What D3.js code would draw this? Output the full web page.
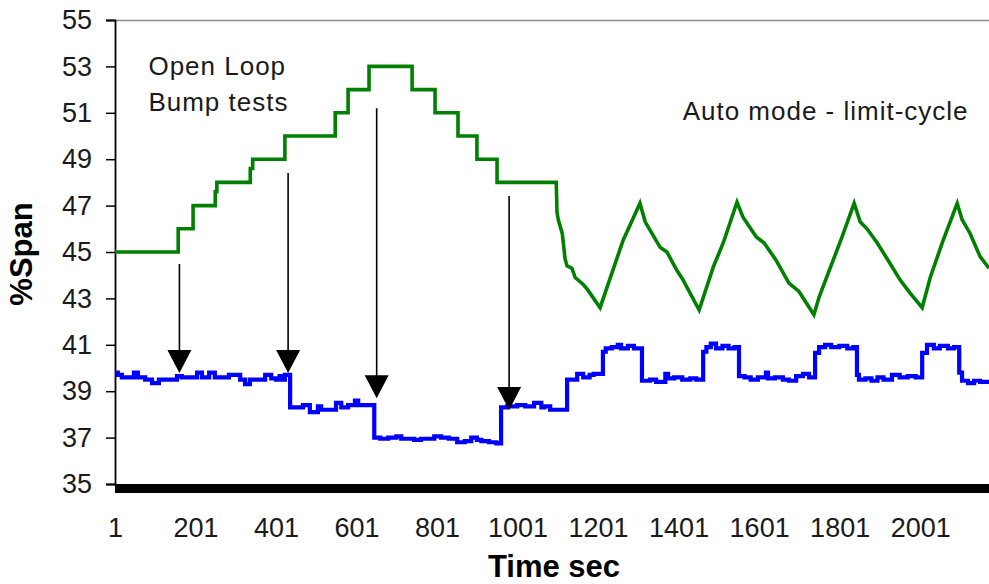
<!DOCTYPE html>
<html>
<head>
<meta charset="utf-8">
<script src="https://cdn.jsdelivr.net/npm/d3@7/dist/d3.min.js"></script>
<style>
  html, body { margin: 0; padding: 0; background: #fff; }
  svg { display: block; font-family: "Liberation Sans", Arial, sans-serif; }
</style>
</head>
<body>
<svg id="chart" width="989" height="584"></svg>
<script>
// ---- data ----
const yTicks = [35, 37, 39, 41, 43, 45, 47, 49, 51, 53, 55];
const xTicks = [1, 201, 401, 601, 801, 1001, 1201, 1401, 1601, 1801, 2001];

// Blue trace (step after)
const blueT = [1, 8, 18, 48, 58, 76, 93, 110, 155, 167,
  205, 217, 235, 249, 284, 312, 324, 336, 374, 389,
  401, 410, 420, 423, 436, 468, 485, 505, 513, 550,
  563, 580, 597, 605, 645, 660, 680, 700, 712, 744,
  761, 794, 811, 830, 851, 870, 886, 900, 911, 930,
  948, 960, 975, 1000, 1020, 1042, 1060, 1067, 1082,
  1124, 1136, 1149, 1164, 1180, 1190,
  1213, 1220, 1235, 1250, 1258, 1275, 1290,
  1310, 1330, 1345, 1368, 1375, 1390, 1410, 1430, 1445,
  1462, 1470, 1481, 1494, 1510, 1525, 1540,
  1551, 1565, 1580, 1598, 1618, 1623, 1640, 1660, 1675, 1693, 1710, 1725,
  1740, 1750, 1765, 1780, 1800, 1820, 1835,
  1844, 1849, 1865, 1880, 1895, 1910, 1931, 1950, 1970, 1990,
  2006, 2018, 2035, 2050, 2070, 2085,
  2098, 2105, 2120, 2135, 2150, 2172];
const blueV = [39.8, 39.7, 39.6, 39.8, 39.6, 39.5, 39.35, 39.5, 39.65, 39.6,
  39.8, 39.6, 39.8, 39.6, 39.7, 39.5, 39.3, 39.5, 39.7, 39.55,
  39.5, 39.65, 39.5, 39.7, 38.3, 38.4, 38.1, 38.35, 38.2, 38.5,
  38.3, 38.4, 38.6, 38.4, 37.0, 36.95, 37.0, 37.05, 36.95, 36.9,
  36.95, 37.05, 37.0, 36.95, 36.8, 36.85, 37.0, 36.9, 36.85, 36.8,
  36.75, 38.3, 38.35, 38.4, 38.35, 38.5, 38.3, 38.35, 38.2,
  39.5, 39.5, 39.75, 39.6, 39.7, 39.75,
  40.7, 40.85, 40.9, 41.0, 40.85, 40.95, 40.85,
  39.45, 39.5, 39.4, 39.75, 39.55, 39.6, 39.5, 39.55, 39.5,
  40.7, 40.9, 41.05, 40.85, 40.95, 40.85, 40.9,
  39.65, 39.6, 39.5, 39.6, 39.8, 39.55, 39.6, 39.5, 39.45, 39.65, 39.75, 39.6,
  40.65, 40.9, 41.0, 40.9, 40.95, 40.85, 40.9,
  39.7, 39.5, 39.55, 39.45, 39.6, 39.5, 39.7, 39.6, 39.65, 39.6,
  40.65, 41.0, 40.85, 40.95, 40.85, 40.9,
  39.8, 39.45, 39.35, 39.45, 39.4, 39.45];

// Green trace (linear through points; repeated times are step edges)
const greenT = [1, 158, 158, 195, 195, 250, 250, 254, 254, 337,
  337, 343, 343, 423, 423, 548, 548, 580, 580, 632,
  632, 739, 739, 796, 796, 853, 853, 900, 900, 950,
  950, 1097, 1099, 1102, 1112, 1119, 1124, 1136, 1144, 1164,
  1174, 1206, 1263, 1305, 1318, 1355, 1372, 1397, 1412, 1452,
  1487, 1512, 1546, 1561, 1594, 1613, 1643, 1675, 1700, 1737,
  1750, 1775, 1807, 1837, 1852, 1869, 1894, 1924, 1951, 1976,
  2006, 2026, 2056, 2093, 2105, 2125, 2150, 2172];
const greenV = [45, 45, 46, 46, 47, 47, 47.6, 47.6, 48, 48,
  48.6, 48.6, 49, 49, 50, 50, 51, 51, 52, 52,
  53, 53, 52, 52, 51, 51, 50, 50, 49, 49,
  48, 48, 46.7, 46.4, 45.8, 44.7, 44.4, 44.3, 43.9, 43.6,
  43.4, 42.6, 45.5, 47.1, 46.3, 45.2, 45.0, 44.2, 43.8, 42.5,
  44.35, 45.4, 47.15, 46.5, 45.65, 45.4, 44.65, 43.66, 43.3, 42.3,
  43.06, 44.2, 45.65, 47.1, 46.3, 46.0, 45.4, 44.57, 43.8, 43.23,
  42.6, 43.9, 45.4, 47.1, 46.4, 45.8, 44.8, 44.3];

// Bump-test arrows
const arrowT = [161, 431, 651, 980];
const arrowFrom = [44.48, 48.41, 51.2, 47.41];
const arrowTo = [39.78, 39.78, 38.7, 38.19];

const notes = [
  { lines: ["Open Loop", "Bump tests"], t: 84, v: 52.65 },
  { lines: ["Auto mode - limit-cycle"], t: 1411, v: 50.7 }
];

(function () {
  const svg = d3.select("#chart");
  const mLeft = 115, mRight = 989, mTop = 20, mBottom = 484;
  const x = d3.scaleLinear().domain([1, 2172]).range([mLeft, mRight]);
  const y = d3.scaleLinear().domain([35, 55]).range([mBottom, mTop]);

  svg.append("defs").append("clipPath").attr("id", "clip")
    .append("rect").attr("x", mLeft).attr("y", 0).attr("width", mRight - mLeft).attr("height", 584);

  // top border
  svg.append("line").attr("x1", mLeft).attr("x2", mRight).attr("y1", mTop + 0.5).attr("y2", mTop + 0.5)
    .attr("stroke", "#8a8a8a").attr("stroke-width", 1.5);

  // y axis
  const yAxis = d3.axisLeft(y).tickValues(yTicks).tickSize(9).tickPadding(14).tickFormat(d3.format("d"));
  const yg = svg.append("g").attr("transform", `translate(${mLeft},0)`).call(yAxis);
  yg.select(".domain").attr("stroke", "#000").attr("stroke-width", 1.8);
  yg.selectAll(".tick line").attr("stroke", "#000").attr("stroke-width", 1.5);
  yg.selectAll(".tick text").attr("font-size", 27).attr("fill", "#1a1a1a")
    .attr("font-family", "'Liberation Sans', Arial, sans-serif");

  // x axis (labels only, thick base line)
  const xAxis = d3.axisBottom(x).tickValues(xTicks).tickSize(0).tickPadding(0).tickFormat(d3.format("d"));
  const xg = svg.append("g").attr("transform", `translate(0,${mBottom})`).call(xAxis);
  xg.select(".domain").remove();
  xg.selectAll(".tick text").attr("font-size", 27).attr("fill", "#1a1a1a").attr("dy", null).attr("y", 53)
    .attr("font-family", "'Liberation Sans', Arial, sans-serif");

  svg.append("rect").attr("x", mLeft).attr("y", mBottom).attr("width", mRight - mLeft).attr("height", 9).attr("fill", "#000");

  // axis titles
  svg.append("text").attr("x", 554).attr("y", 577).attr("text-anchor", "middle")
    .attr("font-size", 31).attr("font-weight", "bold").text("Time sec");
  svg.append("text").attr("transform", `translate(32,254) rotate(-90)`).attr("text-anchor", "middle")
    .attr("font-size", 31).attr("font-weight", "bold").text("%Span");

  const plot = svg.append("g").attr("clip-path", "url(#clip)");

  // green line
  const greenData = greenT.map((t, i) => [t, greenV[i]]);
  plot.append("path").datum(greenData)
    .attr("d", d3.line().x(d => x(d[0])).y(d => y(d[1])))
    .attr("fill", "none").attr("stroke", "#008000").attr("stroke-width", 3.6)
    .attr("stroke-linejoin", "miter");

  // blue line
  const blueData = blueT.map((t, i) => [t, blueV[i]]);
  plot.append("path").datum(blueData)
    .attr("d", d3.line().curve(d3.curveStepAfter).x(d => x(d[0])).y(d => y(d[1])))
    .attr("fill", "none").attr("stroke", "#0000ff").attr("stroke-width", 4.2);

  // arrows
  arrowT.forEach((t, i) => {
    const ax = x(t), y0 = y(arrowFrom[i]), y1 = y(arrowTo[i]);
    plot.append("line").attr("x1", ax).attr("x2", ax).attr("y1", y0).attr("y2", y1 - 18)
      .attr("stroke", "#000").attr("stroke-width", 1.6);
    plot.append("path")
      .attr("d", `M${ax - 12},${y1 - 23} L${ax + 12},${y1 - 23} L${ax},${y1} Z`)
      .attr("fill", "#000");
  });

  // annotations
  notes.forEach(n => {
    const tx = svg.append("text").attr("x", x(n.t)).attr("y", y(n.v))
      .attr("font-size", 26).attr("letter-spacing", 1).attr("fill", "#1a1a1a");
    n.lines.forEach((l, i) => {
      tx.append("tspan").attr("x", x(n.t)).attr("dy", i === 0 ? 0 : 36).text(l);
    });
  });
})();
</script>
</body>
</html>
